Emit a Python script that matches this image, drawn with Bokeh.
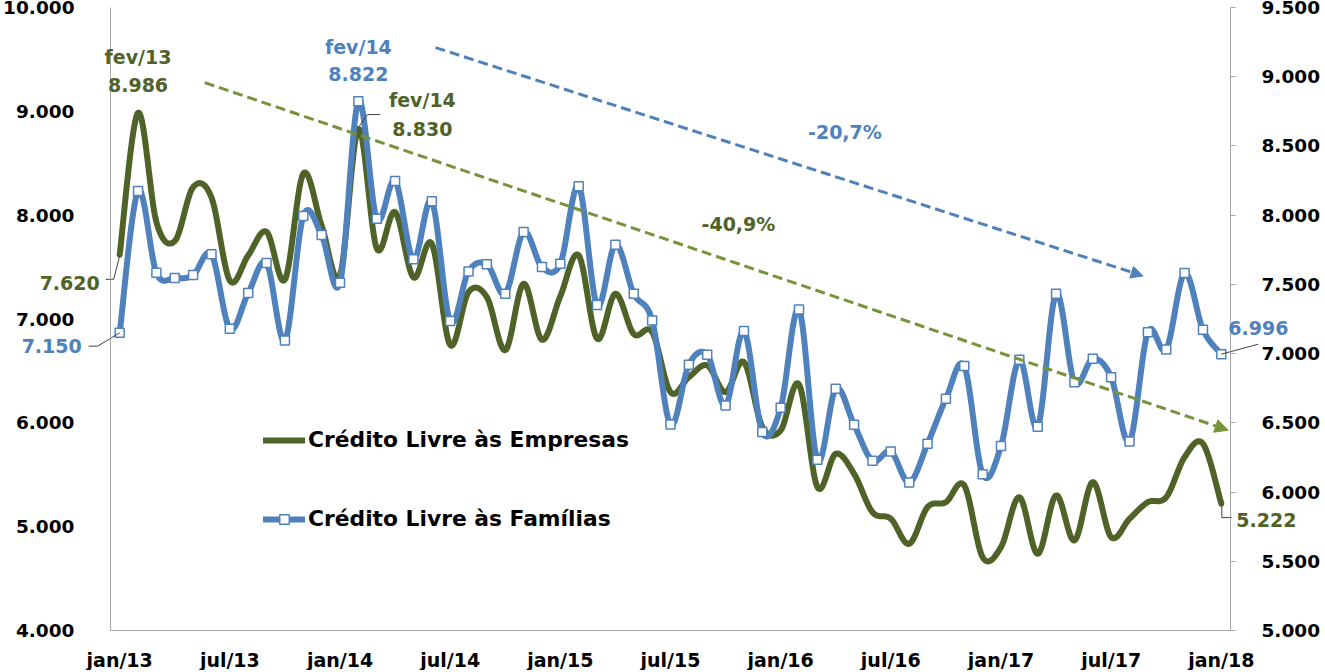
import numpy as np
from bokeh.plotting import figure
from bokeh.models import (Range1d, LinearAxis, FixedTicker, Label, Arrow, NormalHead,
                          Legend, LegendItem)
from bokeh.embed import file_html
from bokeh.resources import INLINE

# ---------------- data ----------------
abbr = ["jan", "fev", "mar", "abr", "mai", "jun", "jul", "ago", "set", "out", "nov", "dez"]
months = [f"{abbr[k % 12]}/{13 + (k // 12)}" for k in range(61)]

x_ticks = [0, 6, 12, 18, 24, 30, 36, 42, 48, 54, 60]

empresas = [7620, 8986, 7934, 7750, 8270, 8170, 7370, 7613, 7840, 7380,
            8400, 7900, 7420, 8830, 7680, 8030, 7400, 7725, 6750, 7260,
            7210, 6700, 7340, 6800, 7220, 7613, 6810, 7243, 6855, 6874,
            6296, 6440, 6553, 6296, 6585, 5960, 5927, 6370, 5381, 5702,
            5509, 5140, 5076, 4835, 5188, 5236, 5397, 4706, 4803, 5284,
            4739, 5301, 4867, 5429, 4899, 5076, 5236, 5284, 5670, 5799,
            5222]

familias = [7150, 8174, 7584, 7546, 7567, 7717, 7180, 7437, 7654, 7095,
            7994, 7856, 7512, 8822, 7975, 8247, 7681, 8100, 7235, 7594,
            7645, 7433, 7878, 7625, 7649, 8208, 7351, 7787, 7433, 7240,
            6488, 6920, 6992, 6626, 7163, 6433, 6609, 7319, 6233, 6746,
            6486, 6226, 6293, 6069, 6349, 6674, 6910, 6129, 6332, 6956,
            6472, 7433, 6794, 6963, 6830, 6366, 7155, 7030, 7582, 7173,
            6996]

left_ticks = [4000, 5000, 6000, 7000, 8000, 9000, 10000]
right_ticks = [5000, 5500, 6000, 6500, 7000, 7500, 8000, 8500, 9000, 9500]

serie_empresas = "Crédito Livre às Empresas"
serie_familias = "Crédito Livre às Famílias"
var_empresas = "-40,9%"
var_familias = "-20,7%"

GREEN = "#4F6228"
GREEN_TREND = "#77933C"
BLUE = "#4F81BD"
AXIS_GRAY = "#A6A6A6"
FONT = "DejaVu Sans"


def fmt(v):
    return f"{v:,}".replace(",", ".")


def smooth(ys, n=20):
    """Excel-like smoothed line (Catmull-Rom Bezier)."""
    P = np.column_stack([np.arange(len(ys), dtype=float), np.array(ys, dtype=float)])
    out = [P[0]]
    t = np.linspace(0, 1, n + 1)[1:, None]
    for i in range(len(P) - 1):
        p0 = P[i - 1] if i > 0 else P[i]
        p3 = P[i + 2] if i + 2 < len(P) else P[i + 1]
        c1 = P[i] + (P[i + 1] - p0) / 6.0
        c2 = P[i + 1] - (p3 - P[i]) / 6.0
        seg = ((1 - t) ** 3) * P[i] + 3 * ((1 - t) ** 2) * t * c1 + 3 * (1 - t) * t ** 2 * c2 + t ** 3 * P[i + 1]
        out.extend(seg)
    out = np.array(out)
    return out[:, 0], out[:, 1]


# ---------------- layout geometry ----------------
W, H = 1322, 670
PLOT_L, PLOT_R = 110, 1230      # plot area edges inside the canvas (px)
PLOT_T, PLOT_B = 7, 630
X0, X1 = -0.5, 60.5
YL0, YL1 = 4000, 10000
YR0, YR1 = 5000, 9500

px_x = (PLOT_R - PLOT_L) / (X1 - X0)
px_l = (PLOT_B - PLOT_T) / (YL1 - YL0)
px_r = (PLOT_B - PLOT_T) / (YR1 - YR0)

x_range = Range1d(X0 - PLOT_L / px_x, X1 + (W - PLOT_R) / px_x)
y_range = Range1d(YL0 - (H - PLOT_B) / px_l, YL1 + PLOT_T / px_l)
yr_range = Range1d(YR0 - (H - PLOT_B) / px_r, YR1 + PLOT_T / px_r)

p = figure(width=W, height=H, output_backend="svg", toolbar_location=None,
           x_range=x_range, y_range=y_range,
           min_border=0, x_axis_location=None, y_axis_location=None)
p.extra_y_ranges = {"right": yr_range}
p.outline_line_color = None
p.xgrid.visible = False
p.ygrid.visible = False
p.background_fill_color = "white"
p.border_fill_color = "white"


def off(i, v, dx, dy, right=False):
    s = px_r if right else px_l
    return i + dx / px_x, v - dy / s


def style_axis(ax, size):
    ax.axis_line_color = AXIS_GRAY
    ax.axis_line_width = 1
    ax.major_tick_line_color = None
    ax.minor_tick_line_color = None
    ax.major_label_text_font = FONT
    ax.major_label_text_font_style = "bold"
    ax.major_label_text_font_size = size
    ax.major_label_text_color = "black"


xa = LinearAxis(ticker=FixedTicker(ticks=x_ticks), fixed_location=YL0, bounds=(X0, X1))
style_axis(xa, "19px")
xa.major_label_overrides = {i: months[i] for i in x_ticks}
xa.major_label_standoff = 12
p.add_layout(xa, "below")

la = LinearAxis(ticker=FixedTicker(ticks=left_ticks), fixed_location=X0, bounds=(YL0, YL1))
style_axis(la, "18.5px")
la.major_label_overrides = {v: fmt(v) for v in left_ticks}
la.major_label_standoff = 30
p.add_layout(la, "left")

ra = LinearAxis(y_range_name="right", ticker=FixedTicker(ticks=right_ticks),
                fixed_location=X1, bounds=(YR0, YR1))
style_axis(ra, "18.5px")
ra.major_label_overrides = {v: fmt(v) for v in right_ticks}
ra.major_tick_line_color = AXIS_GRAY
ra.major_tick_out = 5
ra.major_tick_in = 0
ra.major_label_standoff = 26
p.add_layout(ra, "right")

# trend arrows
g_start, g_end = (4.63, 9277), (60.37, 5929)
b_start, b_end = (17.2, 9614), (55.74, 7415)
p.add_layout(Arrow(x_start=g_start[0], y_start=g_start[1], x_end=g_end[0], y_end=g_end[1],
                   line_color=GREEN_TREND, line_width=3, line_dash="10 5",
                   end=NormalHead(size=13, fill_color=GREEN_TREND, line_color=GREEN_TREND)))
p.add_layout(Arrow(x_start=b_start[0], y_start=b_start[1], x_end=b_end[0], y_end=b_end[1],
                   line_color=BLUE, line_width=3, line_dash="10 5",
                   end=NormalHead(size=12, fill_color=BLUE, line_color=BLUE)))

# series
gx, gy = smooth(empresas)
g_line = p.line(gx, gy, line_color=GREEN, line_width=6, line_join="round", line_cap="round")
bx, by = smooth(familias)
b_line = p.line(bx, by, line_color=BLUE, line_width=6, line_join="round", line_cap="round",
                y_range_name="right")
b_pts = p.scatter(list(range(len(familias))), familias, marker="square", size=9,
                  fill_color="white", line_color=BLUE, line_width=1.5, y_range_name="right")


# leader lines for data labels
def leader(i, v, pts, right=False):
    xs, ys = zip(*[off(i, v, dx, dy, right) for dx, dy in pts])
    kw = {"y_range_name": "right"} if right else {}
    p.line(list(xs), list(ys), line_color="#404040", line_width=1, **kw)


leader(0, empresas[0], [(0, 1), (-6, 24.7), (-14, 24.7)])
leader(0, familias[0], [(0, 0), (-22, 13.3), (-31, 13.3)], right=True)
leader(13, empresas[13], [(1, -3), (9, -14.4), (22, -14.4)])
leader(60, familias[60], [(0, 0), (37, -10)], right=True)
leader(60, empresas[60], [(0.5, 2), (0.5, 14), (10.5, 14)])


def label(i, v, text, color, dx, dy, right=False, size="19px"):
    kw = {"y_range_name": "right"} if right else {}
    p.add_layout(Label(x=i, y=v, x_offset=dx, y_offset=-dy, text=text, text_color=color,
                       text_font=FONT, text_font_style="bold", text_font_size=size,
                       text_align="center", text_baseline="middle", **kw))


label(1, empresas[1], months[1], GREEN, 0, -56)
label(1, empresas[1], fmt(empresas[1]), GREEN, 0, -28)
label(13, familias[13], months[13], BLUE, 0, -54, right=True)
label(13, familias[13], fmt(familias[13]), BLUE, 0, -27, right=True)
label(13, empresas[13], months[13], GREEN, 64, -29)
label(13, empresas[13], fmt(empresas[13]), GREEN, 64, 0)
label(0, empresas[0], fmt(empresas[0]), GREEN, -50, 28)
label(0, familias[0], fmt(familias[0]), BLUE, -68, 13, right=True)
label(60, familias[60], fmt(familias[60]), BLUE, 37, -26, right=True)
label(60, empresas[60], fmt(empresas[60]), GREEN, 45, 16)

p.add_layout(Label(x=33.7, y=7916, text=var_empresas, text_color=GREEN, text_font=FONT,
                   text_font_style="bold", text_font_size="19px", text_align="center",
                   text_baseline="middle"))
p.add_layout(Label(x=39.5, y=8804, text=var_familias, text_color=BLUE, text_font=FONT,
                   text_font_style="bold", text_font_size="19px", text_align="center",
                   text_baseline="middle"))

# legend (location measured from the canvas bottom-left)
legend = Legend(items=[LegendItem(label=serie_empresas, renderers=[g_line]),
                       LegendItem(label=serie_familias, renderers=[b_line, b_pts])],
                location=(263, 139), orientation="vertical",
                glyph_width=42, glyph_height=24, label_height=24, spacing=54,
                label_standoff=3, padding=0, margin=0,
                label_text_font=FONT, label_text_font_style="bold",
                label_text_font_size="21.8px", label_text_color="black",
                border_line_color=None, background_fill_alpha=0)
p.add_layout(legend)

open("out.html", "w").write(file_html(p, INLINE))
